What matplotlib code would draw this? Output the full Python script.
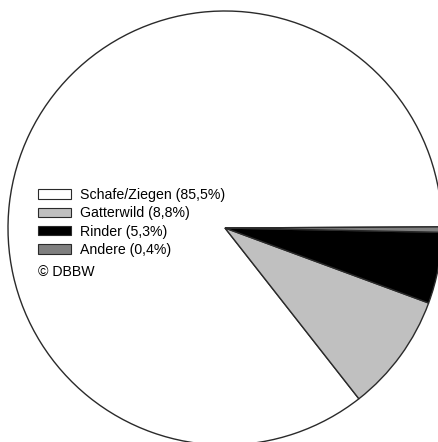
import matplotlib.pyplot as plt
from matplotlib.patches import Patch

plt.rcParams['font.family'] = ['Liberation Sans', 'DejaVu Sans']

# Nutztierarten mit Anteilen an den Übergriffen
labels = ["Schafe/Ziegen", "Gatterwild", "Rinder", "Andere"]
shares = [85.5, 8.8, 5.3, 0.4]
colors = ["#ffffff", "#c0c0c0", "#000000", "#7f7f7f"]

W, H = 438, 442
fig = plt.figure(figsize=(W / 100, H / 100), dpi=100)
ax = fig.add_axes([0, 0, 1, 1])

ax.pie(shares, colors=colors, startangle=0.3, counterclock=True,
       radius=217, center=(225, H - 228),
       wedgeprops=dict(edgecolor="#2a2a2a", linewidth=1.0))
ax.set_xlim(0, W)
ax.set_ylim(0, H)
ax.set_aspect("equal")
ax.axis("off")

handles = [Patch(facecolor=c, edgecolor="#2a2a2a", linewidth=0.8) for c in colors]
legend_labels = [f"{l} ({str(s).replace('.', ',')}%)" for l, s in zip(labels, shares)]
ax.legend(handles, legend_labels, loc="upper left",
          bbox_to_anchor=(38 / W, 1 - 188 / H), frameon=False,
          fontsize=10.2, handlelength=2.35, handleheight=0.65,
          handletextpad=0.6, labelspacing=0.3, borderpad=0, borderaxespad=0)

ax.text(38, H - 272, "© DBBW", fontsize=10.2, va="center", ha="left")

fig.savefig("out.png", dpi=100)
